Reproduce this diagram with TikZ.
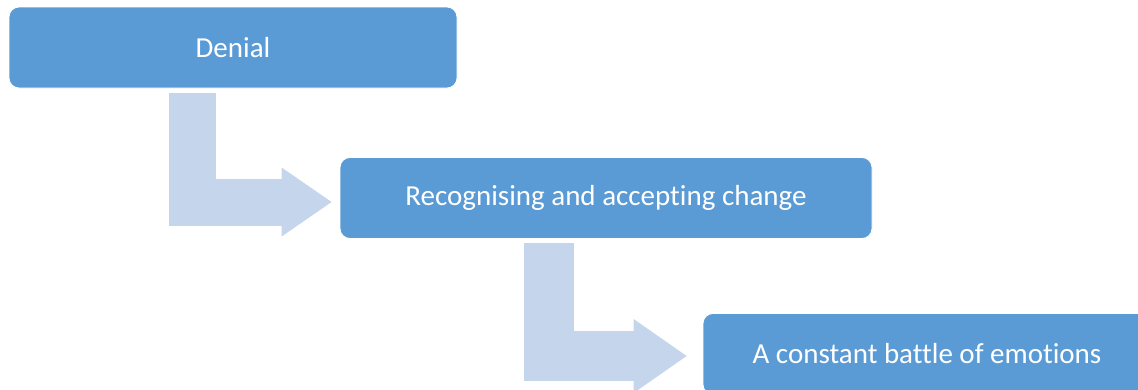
\documentclass[tikz,border=0pt]{standalone}
\usepackage{fontspec}
\setmainfont{Carlito}[Ligatures=NoCommon]
\usetikzlibrary{arrows.meta}
\definecolor{stageblue}{HTML}{5B9BD5}
\definecolor{bendblue}{HTML}{C5D5EB}
\tikzstyle{stage} = [rectangle, rounded corners=10pt, minimum height=81pt, text centered, draw=white, line width=0.8pt, fill=stageblue, text=white, font=\fontsize{29}{34}\selectfont]
\tikzstyle{bentarrow} = [draw=bendblue]

\begin{document}
\begin{tikzpicture}[x=1pt, y=-1pt]
		\clip (0,0) rectangle (1138,389);
		\node (denial) [stage, minimum width=448pt] at (233,47.5) {Denial};
		\node (change) [stage, minimum width=532pt] at (606,198) {Recognising and accepting change};
		\node (battle) [stage, minimum width=448pt] at (927,354) {A constant battle of emotions};
		\coordinate (b1) at (192.5,93);
		\coordinate (b2) at (549,243);
		\draw [bentarrow, line width=47pt, -{Triangle[length=50pt, width=69pt, line width=0pt]}] (b1) |- ([xshift=-8pt, yshift=-4pt]change.west);
		\draw [bentarrow, line width=50pt, -{Triangle[length=53pt, width=74pt, line width=0pt]}] (b2) |- ([xshift=-16pt, yshift=-2pt]battle.west);
\end{tikzpicture}
\end{document}
